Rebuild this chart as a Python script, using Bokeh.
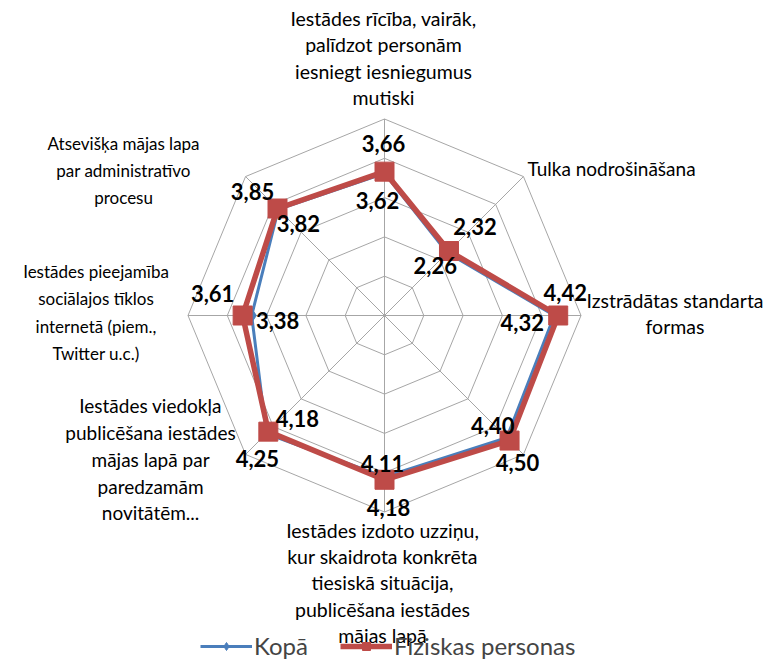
import numpy as np
from bokeh.plotting import figure
from bokeh.models import Range1d, ColumnDataSource, Legend, LegendItem
from bokeh.core.properties import value
from bokeh.embed import file_html
from bokeh.resources import INLINE

# ---------------- data ----------------
categories = [
    "Iestādes rīcība, vairāk,\npalīdzot personām\niesniegt iesniegumus\nmutiski",
    "Tulka nodrošināšana",
    "Izstrādātas standarta\nformas",
    "",
    "Iestādes izdoto uzziņu,\nkur skaidrota konkrēta\ntiesiskā situācija,\npublicēšana iestādes\nmājas lapā",
    "Iestādes viedokļa\npublicēšana iestādes\nmājas lapā par\nparedzamām\nnovitātēm...",
    "Iestādes pieejamība\nsociālajos tīklos\ninternetā (piem.,\nTwitter u.c.)",
    "Atsevišķa mājas lapa\npar administratīvo\nprocesu",
]
kopa = [3.62, 2.26, 4.32, 4.40, 4.11, 4.25, 3.38, 3.82]
fiziskas = [3.66, 2.32, 4.42, 4.50, 4.18, 4.18, 3.61, 3.85]
series_names = ["Kopā", "Fiziskas personas"]
ring_values = [1, 2, 3, 4, 5]
axis_max = 5

# ---------------- layout / style ----------------
W, H = 768, 661
CX, CY = 384, 315          # centre of the radar in figure pixels
RADIUS_PX = 196.5
ppu = RADIUS_PX / axis_max

BLUE = "#4A7EBB"
RED = "#BE4B48"
GRID = "#A6A6A6"
FONT = "Lato"

n = len(categories)
theta = np.arange(n) * 2 * np.pi / n   # clockwise from top


def polar(vals):
    v = np.asarray(vals, dtype=float)
    return v * np.sin(theta), v * np.cos(theta)


p = figure(width=W, height=H, output_backend="svg", toolbar_location=None,
           x_axis_type=None, y_axis_type=None, min_border=0,
           x_range=Range1d(-CX / ppu, (W - CX) / ppu),
           y_range=Range1d(-(H - CY) / ppu, CY / ppu))
p.outline_line_color = None
p.background_fill_color = "white"
p.border_fill_color = "white"

# grid rings
ring_xs, ring_ys = [], []
for r in ring_values:
    gx, gy = polar([r] * n)
    ring_xs.append(list(gx) + [gx[0]])
    ring_ys.append(list(gy) + [gy[0]])
p.multi_line(ring_xs, ring_ys, line_color=GRID, line_width=1)

# spokes
sx, sy = polar([axis_max] * n)
p.segment(x0=[0] * n, y0=[0] * n, x1=sx, y1=sy, line_color=GRID, line_width=1)

# series
bx, by = polar(kopa)
rx, ry = polar(fiziskas)
bl = p.line(list(bx) + [bx[0]], list(by) + [by[0]], line_color=BLUE, line_width=3)
bm = p.scatter(bx, by, marker="diamond", size=14, fill_color=BLUE, line_color=BLUE)
rl = p.line(list(rx) + [rx[0]], list(ry) + [ry[0]], line_color=RED, line_width=5.5)
rm = p.scatter(rx, ry, marker="square", size=19, fill_color=RED, line_color=RED)

# data labels (pixel offsets from their points)
fmt = lambda v: f"{v:.2f}".replace(".", ",")
blue_off = [(-7, 27), (-12, 13), (-32, 7), (-14, -12), (-2, -14), (-9, 25), (26, 5), (20, 14)]
red_off = [(-1, -28), (26, -25), (7, -23), (8, 22), (4, 28), (29, -13), (-30, -22), (-25, -17)]
for xs_, ys_, vals, offs in [(bx, by, kopa, blue_off), (rx, ry, fiziskas, red_off)]:
    src = ColumnDataSource(dict(x=xs_, y=ys_, t=[fmt(v) for v in vals],
                                xo=[o[0] for o in offs], yo=[o[1] for o in offs]))
    p.text("x", "y", text="t", x_offset="xo", y_offset="yo", source=src,
           text_font=value(FONT), text_font_style="bold", text_font_size="22px",
           text_color="black", text_align="center", text_baseline="middle")

# category labels (pixel offsets from outer vertices), grouped by type size
cat_off = [(-1, -61), (4, -8), (94, -2), (0, 0), (-2, 71), (-95, 5), (-92, -3), (-122, -6)]
cat_align = ["center", "left", "center", "center", "center", "center", "center", "center"]
cat_size = [19.5, 19, 19.5, 19, 19.5, 19, 17, 17]
for fs in sorted(set(cat_size)):
    idx = [i for i in range(n) if cat_size[i] == fs and categories[i]]
    csrc = ColumnDataSource(dict(x=[sx[i] for i in idx], y=[sy[i] for i in idx],
                                 t=[categories[i] for i in idx],
                                 xo=[cat_off[i][0] for i in idx],
                                 yo=[cat_off[i][1] for i in idx],
                                 al=[cat_align[i] for i in idx]))
    p.text("x", "y", text="t", x_offset="xo", y_offset="yo", text_align="al", source=csrc,
           text_font=value(FONT), text_font_size=f"{fs}px", text_color="black",
           text_baseline="middle", text_line_height=26.5 / (1.2 * fs))

legend = Legend(items=[LegendItem(label=series_names[0], renderers=[bl, bm]),
                       LegendItem(label=series_names[1], renderers=[rl, rm])],
                orientation="horizontal", location=(200, 1),
                glyph_width=52, glyph_height=20, label_standoff=2, spacing=32,
                padding=0, margin=0, border_line_alpha=0, background_fill_alpha=0,
                label_text_font=FONT, label_text_font_size="24px", label_height=20)
p.add_layout(legend)

open("out.html", "w").write(file_html(p, INLINE))
